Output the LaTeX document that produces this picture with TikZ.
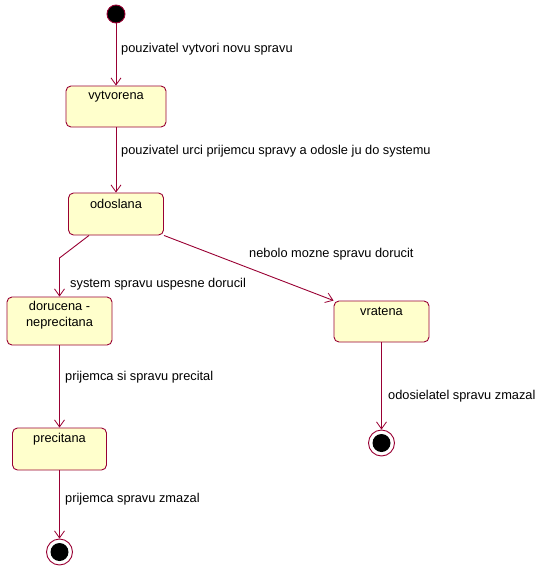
\documentclass[tikz,border=0pt]{standalone}
\usepackage{fontspec}
\setmainfont{Liberation Sans}
\usetikzlibrary{arrows.meta}
\definecolor{umlline}{HTML}{990033}
\definecolor{umlfill}{HTML}{FFFFCC}
\tikzset{
  statebox/.style={draw=umlline, fill=umlfill, rounded corners=5pt, line width=0.9pt, inner sep=0pt},
  stname/.style={font=\fontsize{12.8}{16}\selectfont, inner sep=0pt, align=center},
  trans/.style={draw=umlline, line width=0.9pt, -{Straight Barb[length=7pt,width=10pt,line width=0.8pt]}},
  lbl/.style={font=\fontsize{12.8}{15}\selectfont, anchor=west, inner sep=0pt},
  initst/.style={circle, fill=black, draw=umlline, line width=0.9pt, minimum size=18pt, inner sep=0pt},
  finalst/.style={circle, draw=umlline, fill=white, line width=0.9pt, minimum size=26pt, inner sep=0pt,
     path picture={\fill[black] (path picture bounding box.center) circle (9pt);}}
}
\begin{document}
\begin{tikzpicture}[x=1pt,y=-1pt]
\useasboundingbox (0,0) rectangle (544,574);
\node[initst] (start) at (116,14) {};
\node[statebox, minimum width=100pt, minimum height=41pt] (vyt) at (116,106.5) {};
\node[stname] (vytt) at (116,97) {vytvorena};
\node[statebox, minimum width=95pt, minimum height=42pt] (odo) at (116,214) {};
\node[stname] (odot) at (116,204) {odoslana};
\node[statebox, minimum width=105pt, minimum height=48pt] (dor) at (59.5,321) {};
\node[stname] (dort) at (59.5,315) {dorucena -\\neprecitana};
\node[statebox, minimum width=94pt, minimum height=42pt] (pre) at (59.5,449) {};
\node[stname] (pret) at (59.5,439) {precitana};
\node[statebox, minimum width=95pt, minimum height=41pt] (vra) at (381.5,321.5) {};
\node[stname] (vrat) at (381.5,311) {vratena};
\node[finalst] (end1) at (59.5,552) {};
\node[finalst] (end2) at (381.5,443) {};
\coordinate (b1) at (59.5,258);

\draw[trans] (start) -- (vyt);
\draw[trans] (vyt) -- (odo);
\draw[trans] ([xshift=-27pt]odo.south) -- (b1) -- (dor);
\draw[trans] (odo.south east) -- (vra.north west);
\draw[trans] (dor) -- (pre);
\draw[trans] (pre) -- (end1);
\draw[trans] (vra) -- (end2);

\node[lbl] (l1) at (121,49) {pouzivatel vytvori novu spravu};
\node[lbl] (l2) at (121,151) {pouzivatel urci prijemcu spravy a odosle ju do systemu};
\node[lbl] (l3) at (70,284) {system spravu uspesne dorucil};
\node[lbl] (l4) at (249,254) {nebolo mozne spravu dorucit};
\node[lbl] (l5) at (65,377) {prijemca si spravu precital};
\node[lbl] (l6) at (65,499) {prijemca spravu zmazal};
\node[lbl] (l7) at (388,396) {odosielatel spravu zmazal};
\end{tikzpicture}
\end{document}
